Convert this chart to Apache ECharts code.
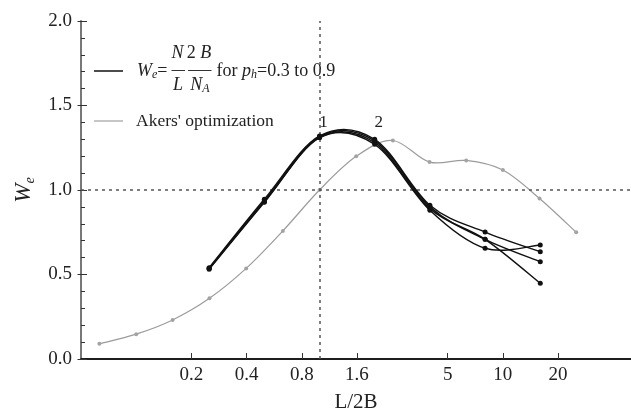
<!DOCTYPE html>
<html><head><meta charset="utf-8">
<script src="https://cdn.jsdelivr.net/npm/echarts@6/dist/echarts.min.js"></script>
<style>html,body{margin:0;padding:0;background:#fff}#c{width:631px;height:413px}</style>
</head><body><div id="c"></div>
<script>
// ---- data ----
const xTickValues = [0.2, 0.4, 0.8, 1.6, 5, 10, 20];
const akersX = [0.063, 0.1, 0.158, 0.251, 0.398, 0.631, 1, 1.585, 2.512, 3.981, 6.31, 10, 15.85, 25.12];
const akersY = [0.09, 0.147, 0.231, 0.359, 0.536, 0.758, 1.0, 1.199, 1.293, 1.165, 1.175, 1.118, 0.95, 0.75];
const weX = [0.25, 0.5, 1, 2, 4, 8, 16];
const weA = [0.540, 0.945, 1.320, 1.300, 0.910, 0.751, 0.635];
const weB = [0.537, 0.935, 1.315, 1.290, 0.900, 0.708, 0.576];
const weC = [0.535, 0.930, 1.310, 1.280, 0.890, 0.708, 0.448];
const weD = [0.531, 0.927, 1.310, 1.270, 0.880, 0.655, 0.675];
const peakLabels = [{name: '1', x: 1, y: 1.4}, {name: '2', x: 2, y: 1.4}];

const SERIF = "'Liberation Serif','Times New Roman',serif";
const pair = (xs, ys) => xs.map((x, i) => [x, ys[i]]);

const chart = echarts.init(document.getElementById('c'), null, {renderer: 'canvas'});

// Smooth (Catmull-Rom) curve drawn through the data points converted by the chart's own axes
function curveSeries(xs, ys, color, width, z) {
  return {
    type: 'custom', coordinateSystem: 'cartesian2d', xAxisIndex: 0, yAxisIndex: 0,
    silent: true, z: z, clip: false,
    data: pair(xs, ys), encode: {x: 0, y: 1},
    renderItem: function (params, api) {
      if (params.dataIndex !== 0) return null;
      const p = xs.map((x, i) => api.coord([x, ys[i]]));
      const n = p.length, children = [];
      for (let i = 0; i < n - 1; i++) {
        const p0 = p[Math.max(i - 1, 0)], p1 = p[i], p2 = p[i + 1], p3 = p[Math.min(i + 2, n - 1)];
        children.push({
          type: 'bezierCurve',
          shape: {
            x1: p1[0], y1: p1[1], x2: p2[0], y2: p2[1],
            cpx1: p1[0] + (p2[0] - p0[0]) / 6, cpy1: p1[1] + (p2[1] - p0[1]) / 6,
            cpx2: p2[0] - (p3[0] - p1[0]) / 6, cpy2: p2[1] - (p3[1] - p1[1]) / 6
          },
          style: {stroke: color, lineWidth: width, fill: null}
        });
      }
      return {type: 'group', children: children};
    }
  };
}
function pointSeries(xs, ys, color, size, z, extra) {
  return Object.assign({
    type: 'line', data: pair(xs, ys), symbol: 'circle', symbolSize: size, showSymbol: true,
    lineStyle: {width: 0, opacity: 0}, itemStyle: {color: color}, z: z, silent: true
  }, extra || {});
}

const option = {
  animation: false,
  backgroundColor: '#fff',
  grid: {left: 81, right: 0, top: 21, bottom: 54, containLabel: false, outerBoundsMode: 'none'},
  xAxis: [{
    type: 'log', logBase: 10, min: 0.05, max: 50, position: 'bottom',
    axisLine: {show: true, lineStyle: {color: '#777', width: 2}},
    axisTick: {show: true, inside: true, length: 6, customValues: xTickValues, lineStyle: {color: '#333', width: 1}},
    axisLabel: {show: true, customValues: xTickValues, margin: 7, color: '#222', fontSize: 19, fontFamily: SERIF,
      formatter: v => String(+(+v).toPrecision(3))},
    splitLine: {show: false}, minorTick: {show: false},
    name: 'L/2B', nameLocation: 'middle', nameGap: 33,
    nameTextStyle: {fontSize: 21, fontFamily: SERIF, color: '#222'}
  }, {
    type: 'log', logBase: 10, min: 0.05, max: 50, position: 'top',
    axisLine: {show: true, lineStyle: {color: '#000', width: 1.5}},
    axisTick: {show: false}, axisLabel: {show: false}, splitLine: {show: false}
  }],
  yAxis: [{
    type: 'value', min: 0, max: 2, interval: 0.5, position: 'left',
    axisLine: {show: true, lineStyle: {color: '#777', width: 2}},
    axisTick: {show: true, inside: true, length: 6, lineStyle: {color: '#333', width: 1}},
    minorTick: {show: true, splitNumber: 5, length: 4, lineStyle: {color: '#333', width: 1}},
    axisLabel: {margin: 9, color: '#222', fontSize: 19, fontFamily: SERIF, formatter: v => v.toFixed(1)},
    splitLine: {show: false},
    name: '{i|W}{s|e}', nameLocation: 'middle', nameGap: 43, nameRotate: 90,
    nameTextStyle: {fontFamily: SERIF, color: '#222',
      rich: {i: {fontSize: 23, fontStyle: 'italic', fontFamily: SERIF, color: '#222', lineHeight: 26},
             s: {fontSize: 14, fontStyle: 'italic', fontFamily: SERIF, color: '#222', verticalAlign: 'bottom', lineHeight: 14}}}
  }, {
    type: 'value', min: 0, max: 2, interval: 0.5, position: 'left',
    axisLine: {show: false},
    axisTick: {show: true, inside: false, length: 3.5, lineStyle: {color: '#333', width: 1}},
    axisLabel: {show: false}, splitLine: {show: false}
  }],
  series: [
    curveSeries(akersX, akersY, '#9c9c9c', 1.2, 3),
    pointSeries(akersX, akersY, '#a3a3a3', 4, 4, {
      markLine: {
        silent: true, symbol: 'none', animation: false,
        lineStyle: {type: [3, 4], color: '#555', width: 1.5},
        label: {show: false},
        data: [{xAxis: 1}, {yAxis: 1}]
      }
    }),
    curveSeries(weX, weA, '#111', 1.5, 5),
    curveSeries(weX, weB, '#111', 1.5, 5),
    curveSeries(weX, weC, '#111', 1.5, 5),
    curveSeries(weX, weD, '#111', 1.5, 5),
    pointSeries(weX, weA, '#111', 5, 6, {
      markPoint: {
        symbol: 'circle', symbolSize: 0, silent: true,
        label: {show: true, formatter: '{b}', position: 'inside', offset: [4, 0], color: '#222', fontSize: 17, fontFamily: SERIF},
        data: peakLabels.map(p => ({name: p.name, coord: [p.x, p.y]}))
      }
    }),
    pointSeries(weX, weB, '#111', 5, 6),
    pointSeries(weX, weC, '#111', 5, 6),
    pointSeries(weX, weD, '#111', 5, 6)
  ],
  graphic: [
    {type: 'line', shape: {x1: 94, y1: 71, x2: 123, y2: 71}, style: {stroke: '#111', lineWidth: 1.5}},
    {type: 'text', style: {x: 137, y: 71, text: '{i|W}{s|e}=', textVerticalAlign: 'middle', verticalAlign: 'middle', fill: '#222',
      font: '18px ' + SERIF,
      rich: {i: {fontStyle: 'italic', fontSize: 18, fontFamily: SERIF, lineHeight: 20},
             s: {fontStyle: 'italic', fontSize: 12, fontFamily: SERIF, verticalAlign: 'bottom', lineHeight: 12}}}},
    {type: 'text', style: {x: 177.5, y: 53, text: 'N', textAlign: 'center', align: 'center', textVerticalAlign: 'middle', verticalAlign: 'middle', fill: '#222',
      font: 'italic 18px ' + SERIF}},
    {type: 'line', shape: {x1: 171.5, y1: 70.5, x2: 185, y2: 70.5}, style: {stroke: '#333', lineWidth: 1}},
    {type: 'text', style: {x: 178, y: 85, text: 'L', textAlign: 'center', align: 'center', textVerticalAlign: 'middle', verticalAlign: 'middle', fill: '#222',
      font: 'italic 18px ' + SERIF}},
    {type: 'text', style: {x: 199, y: 53, text: '{r|2 }{i|B}', textAlign: 'center', align: 'center', textVerticalAlign: 'middle', verticalAlign: 'middle', fill: '#222',
      font: '18px ' + SERIF,
      rich: {r: {fontSize: 18, fontFamily: SERIF}, i: {fontSize: 18, fontFamily: SERIF, fontStyle: 'italic'}}}},
    {type: 'line', shape: {x1: 188, y1: 70.5, x2: 211.5, y2: 70.5}, style: {stroke: '#333', lineWidth: 1}},
    {type: 'text', style: {x: 200, y: 85, text: '{i|N}{s|A}', textAlign: 'center', align: 'center', textVerticalAlign: 'middle', verticalAlign: 'middle', fill: '#222',
      font: 'italic 18px ' + SERIF,
      rich: {i: {fontStyle: 'italic', fontSize: 18, fontFamily: SERIF, lineHeight: 20},
             s: {fontStyle: 'italic', fontSize: 12, fontFamily: SERIF, verticalAlign: 'bottom', lineHeight: 12}}}},
    {type: 'text', style: {x: 216.5, y: 71, text: 'for {i|p}{s|h}=0.3 to 0.9', textVerticalAlign: 'middle', verticalAlign: 'middle', fill: '#222',
      font: '18px ' + SERIF,
      rich: {i: {fontStyle: 'italic', fontSize: 18, fontFamily: SERIF, lineHeight: 20},
             s: {fontStyle: 'italic', fontSize: 12, fontFamily: SERIF, verticalAlign: 'bottom', lineHeight: 12}}}},
    {type: 'line', shape: {x1: 94, y1: 121, x2: 123, y2: 121}, style: {stroke: '#a0a0a0', lineWidth: 1.2}},
    {type: 'text', style: {x: 136, y: 121, text: "Akers' optimization", textVerticalAlign: 'middle', verticalAlign: 'middle', fill: '#222',
      font: '17.5px ' + SERIF}}
  ]
};
chart.setOption(option);
</script>
</body></html>
